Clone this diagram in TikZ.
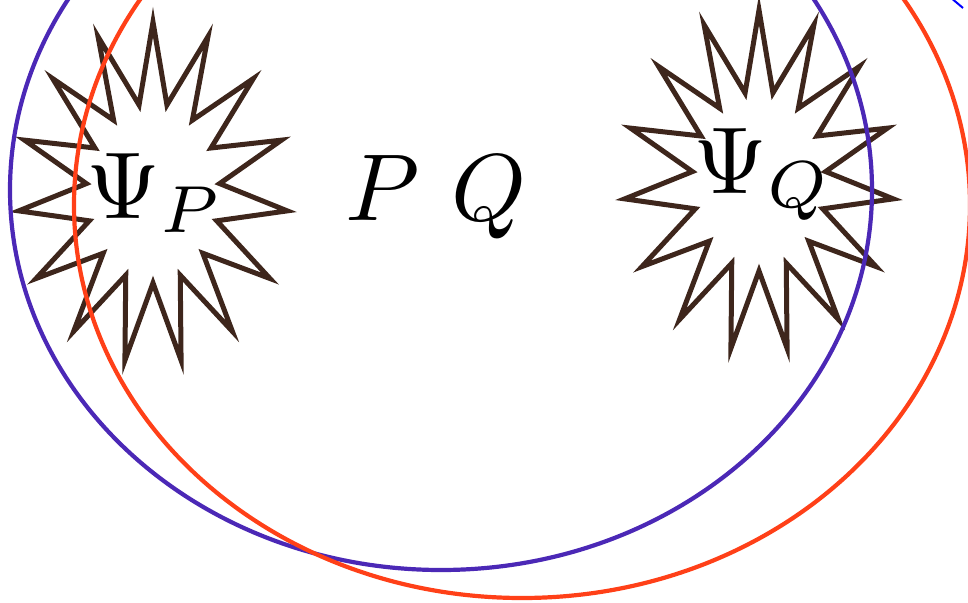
\documentclass[tikz,border=0pt]{standalone}
\definecolor{starbrown}{RGB}{62,38,28}
\definecolor{ellpurple}{RGB}{75,40,182}
\definecolor{ellred}{RGB}{255,64,24}
\begin{document}
\begin{tikzpicture}[x=1pt,y=-1pt,
  starline/.style={draw=starbrown, line width=5pt},
  ellline/.style={line width=4.2pt},
  lbl/.style={inner sep=0pt, scale=9.5}]
\useasboundingbox (0,0) rectangle (968,602);
\clip (0,0) rectangle (968,602);
% starbursts
\draw[starline] plot[samples at={0,...,29}, variable=\k]
  ({153+(101+34*cos(180*\k))*cos(90+12*\k)}, {193-(130.5+40.5*cos(180*\k))*sin(90+12*\k)}) -- cycle;
\draw[starline] plot[samples at={0,...,29}, variable=\k]
  ({759+(101+34*cos(180*\k))*cos(90+12*\k)}, {181-(130.5+40.5*cos(180*\k))*sin(90+12*\k)}) -- cycle;
% ellipses
\draw[ellline, draw=ellpurple] (441,190) ellipse [x radius=431, y radius=380];
\draw[ellline, draw=ellred] (522,205) ellipse [x radius=448, y radius=393];
\draw[blue, line width=2pt] (950,-3) -- (963,8);
% labels
\node[lbl, anchor=base west] (psip) at (85,218) {$\Psi_P$};
\node[lbl, anchor=base west] (psiq) at (692,193) {$\Psi_Q$};
\node[lbl, anchor=base west] (pq) at (344,220) {$P$ $Q$};
\end{tikzpicture}
\end{document}
